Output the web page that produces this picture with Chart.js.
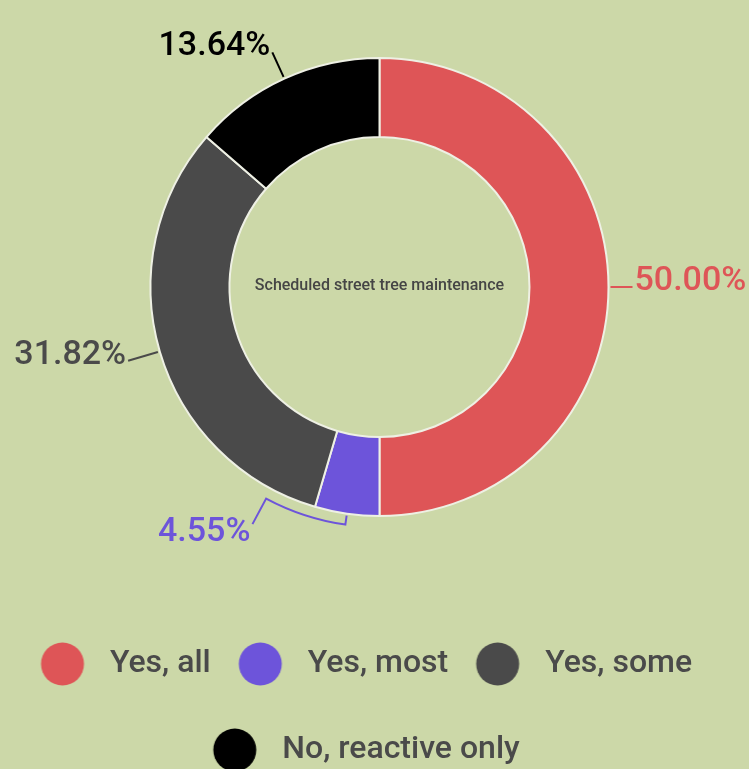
<!DOCTYPE html>
<html>
<head>
<meta charset="utf-8">
<script src="https://cdn.jsdelivr.net/npm/chart.js@4.4.1/dist/chart.umd.min.js"></script>
<style>
  html, body { margin: 0; padding: 0; background: #ccd8a8; overflow: hidden; }
  #wrap { position: relative; width: 769px; height: 796px; margin-left: -5px; margin-top: -20px; }
</style>
</head>
<body>
<div id="wrap"><canvas id="chart"></canvas></div>
<script>
const categories = ["Yes, all", "Yes, most", "Yes, some", "No, reactive only"];
const responses = [11, 1, 7, 3];
const sliceColors = ["#de5557", "#6d54da", "#4a4a4a", "#000000"];
const centerTitle = "Scheduled street tree maintenance";

// leader line tweaks per slice (degrees of shift, px beyond the ring)
const labelShift = [0, 20, 0, 0];
const leaderLength = [24, 40, 33, 29];

const textColor = "#4a4a4a";
const labelFont = "500 34px Roboto";

function legendDot(color) {
  const c = document.createElement("canvas");
  c.width = 90;
  c.height = 46;
  const g = c.getContext("2d");
  g.fillStyle = color;
  g.beginPath();
  g.arc(27, 23, 21.5, 0, Math.PI * 2);
  g.fill();
  return c;
}
const dots = sliceColors.map(legendDot);

const sliceLabels = {
  id: "sliceLabels",
  afterDatasetsDraw(chart) {
    const ctx = chart.ctx;
    const arcs = chart.getDatasetMeta(0).data;
    const total = responses.reduce((a, b) => a + b, 0);
    ctx.save();
    arcs.forEach((arc, i) => {
      const { x, y, startAngle, endAngle, outerRadius } =
        arc.getProps(["x", "y", "startAngle", "endAngle", "outerRadius"], true);
      const mid = (startAngle + endAngle) / 2;
      const shift = labelShift[i] * Math.PI / 180;
      const ang = mid + shift;
      const color = sliceColors[i];

      ctx.strokeStyle = color;
      ctx.lineWidth = 2;
      ctx.beginPath();
      const r0 = outerRadius + 2;
      ctx.moveTo(x + r0 * Math.cos(mid), y + r0 * Math.sin(mid));
      if (shift) {
        const rb = outerRadius + 11;
        ctx.lineTo(x + rb * Math.cos(mid), y + rb * Math.sin(mid));
        ctx.arc(x, y, rb, mid, ang, shift < 0);
      }
      const r1 = outerRadius + leaderLength[i];
      const ex = x + r1 * Math.cos(ang);
      const ey = y + r1 * Math.sin(ang);
      ctx.lineTo(ex, ey);
      ctx.stroke();

      const txt = (responses[i] / total * 100).toFixed(2) + "%";
      ctx.font = labelFont;
      ctx.fillStyle = color;
      ctx.textBaseline = "alphabetic";
      const right = Math.cos(ang) >= 0;
      ctx.textAlign = right ? "left" : "right";
      const steepDown = Math.sin(ang) > 0.8;
      ctx.fillText(txt, ex + (right ? 2 : -2), ey + (steepDown ? 17 : 3));
    });

    const a0 = arcs[0];
    ctx.font = "500 16px Roboto";
    ctx.fillStyle = "#454545";
    ctx.textAlign = "center";
    ctx.textBaseline = "middle";
    ctx.fillText(centerTitle, a0.x, a0.y - 1);
    ctx.restore();
  }
};

new Chart(document.getElementById("chart"), {
  type: "doughnut",
  data: {
    labels: categories,
    datasets: [{
      data: responses,
      backgroundColor: sliceColors,
      borderColor: "#eef0e4",
      borderWidth: 2
    }]
  },
  options: {
    responsive: true,
    maintainAspectRatio: false,
    animation: false,
    radius: 229,
    cutout: "65.5%",
    layout: { padding: 0 },
    plugins: {
      tooltip: { enabled: false },
      legend: {
        position: "bottom",
        labels: {
          usePointStyle: true,
          pointStyleWidth: 27,
          boxHeight: 30,
          padding: 54,
          color: textColor,
          font: { family: "Roboto", size: 32, weight: "500" },
          generateLabels(chart) {
            const items = Chart.overrides.doughnut.plugins.legend.labels.generateLabels(chart);
            items.forEach(it => {
              it.pointStyle = dots[it.index];
              it.fontColor = textColor;
            });
            return items;
          }
        }
      }
    }
  },
  plugins: [sliceLabels]
});
</script>
</body>
</html>
